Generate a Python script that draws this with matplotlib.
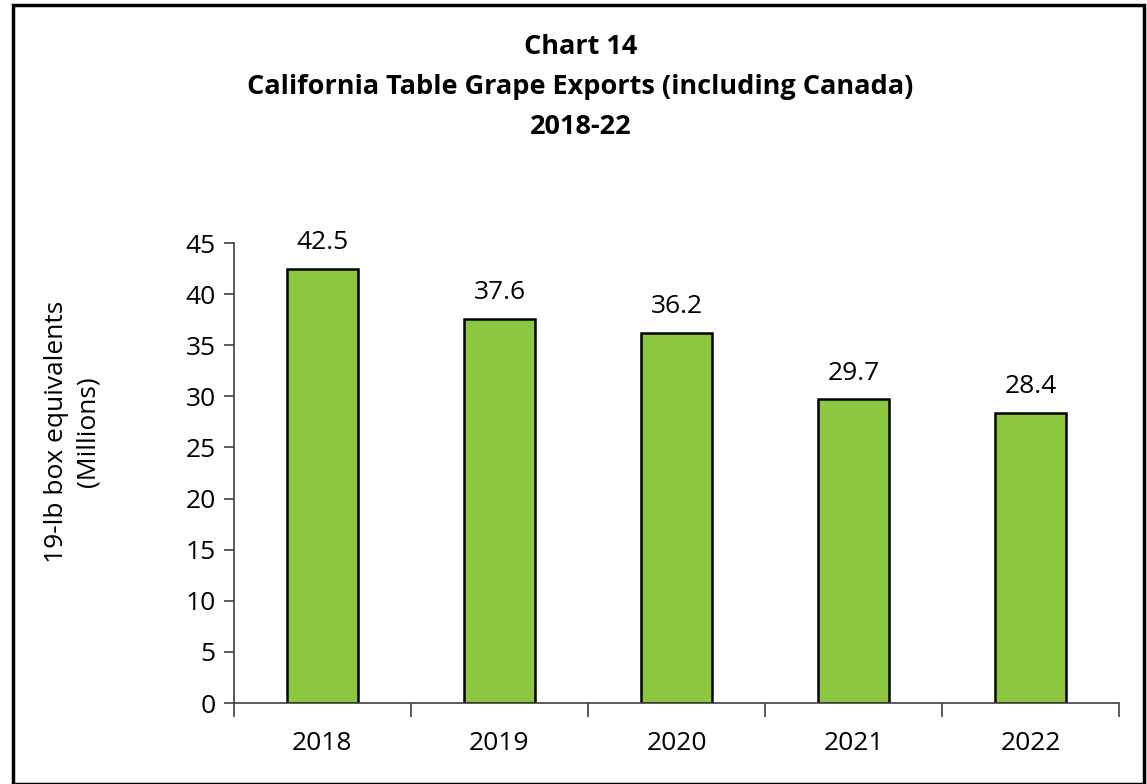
import numpy as np
from matplotlib import pyplot as plt
from matplotlib.patches import Rectangle

years = ["2018", "2019", "2020", "2021", "2022"]
exports = [42.5, 37.6, 36.2, 29.7, 28.4]
y_ticks = [0, 5, 10, 15, 20, 25, 30, 35, 40, 45]

plt.rcParams['font.family'] = ['Open Sans', 'DejaVu Sans']

fig = plt.figure(figsize=(11.47, 7.84), dpi=100)
ax = fig.add_axes([0.204, 0.1033, 0.7716, 0.5867])

x = np.arange(len(years))
bars = ax.bar(x, exports, width=0.4, color='#8dc63f', edgecolor='black', linewidth=1.8, zorder=2)
for xi, v in zip(x, exports):
    ax.annotate(f"{v:.1f}", (xi, v), xytext=(0, 10), textcoords='offset points',
                ha='center', va='bottom', fontsize=19)

ax.set_xlim(-0.5, len(years) - 0.5)
ax.set_ylim(0, 45)
ax.set_yticks(y_ticks)
ax.tick_params(axis='y', labelsize=19, direction='out', length=7, width=1.2, color='#404040', pad=6)

# category ticks between bars
ax.set_xticks(np.arange(len(years) + 1) - 0.5)
ax.set_xticklabels([])
ax.tick_params(axis='x', direction='out', length=10, width=1.2, color='#404040')
ax.set_xticks(x, minor=True)
ax.set_xticklabels(years, minor=True, fontsize=19)
ax.tick_params(axis='x', which='minor', length=0, pad=20)

for s in ['top', 'right']:
    ax.spines[s].set_visible(False)
for s in ['left', 'bottom']:
    ax.spines[s].set_color('#404040')
    ax.spines[s].set_linewidth(1.2)

fig.text(0.063, 0.449, "19-lb box equivalents\n(Millions)", rotation=90, ha='center', va='center',
         fontsize=19, linespacing=1.3)

fig.text(0.506, 0.889, "Chart 14\nCalifornia Table Grape Exports (including Canada)\n2018-22",
         ha='center', va='center', fontsize=19.5, fontweight='bold', linespacing=1.68)

fig.patches.append(Rectangle((0.0115, 0.0), 0.986, 0.994, transform=fig.transFigure,
                             fill=False, edgecolor='black', linewidth=2.5))

fig.savefig("out.png", dpi=100)
